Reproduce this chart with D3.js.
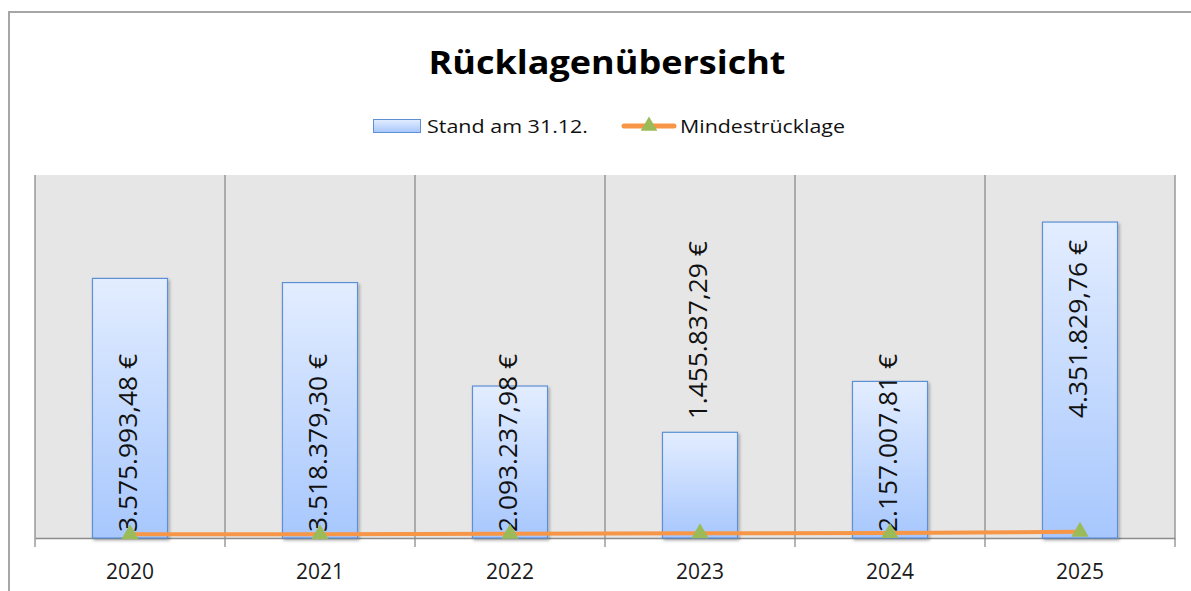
<!DOCTYPE html>
<html>
<head>
<meta charset="utf-8">
<script src="https://cdn.jsdelivr.net/npm/d3@7"></script>
<style>
  body { margin: 0; background: #fff; }
  svg { display: block; }
</style>
</head>
<body>
<div id="chart-area"></div>
<script>
// data
const years = ["2020", "2021", "2022", "2023", "2024", "2025"];
const stand = [3575993.48, 3518379.30, 2093237.98, 1455837.29, 2157007.81, 4351829.76];
const mindest = [50000, 52000, 60000, 65000, 70000, 85000];
const yDomain = [0, 5000000];

// label placement per bar (Excel put some at the base, some above the bar)
const labelMode = ["base", "base", "base", "end", "base", "end"];

const W = 1191, H = 591;
const plot = { left: 35, right: 1175, top: 175, bottom: 538 };

const fmt = v => {
  const s = v.toFixed(2).split(".");
  return s[0].replace(/\B(?=(\d{3})+(?!\d))/g, ".") + "," + s[1] + " €";
};

const svg = d3.select("#chart-area")
  .append("svg")
  .attr("width", W)
  .attr("height", H)
  .style("font-family", "'Open Sans', sans-serif");

const defs = svg.append("defs");
const grad = defs.append("linearGradient")
  .attr("id", "barGrad")
  .attr("x1", 0).attr("y1", 0).attr("x2", 0).attr("y2", 1);
grad.append("stop").attr("offset", "0%").attr("stop-color", "#e3edff");
grad.append("stop").attr("offset", "100%").attr("stop-color", "#a7c7fd");

const shadow = defs.append("filter").attr("id", "shadow")
  .attr("x", "-20%").attr("y", "-20%").attr("width", "140%").attr("height", "140%");
shadow.append("feDropShadow")
  .attr("dx", 1.5).attr("dy", 2).attr("stdDeviation", 1.5)
  .attr("flood-color", "#000").attr("flood-opacity", 0.3);

// outer chart frame
svg.append("path")
  .attr("d", `M9,${H} V12 H${W}`)
  .attr("fill", "none")
  .attr("stroke", "#a6a6a6")
  .attr("stroke-width", 2);

// title
svg.append("text")
  .attr("x", 607).attr("y", 74)
  .attr("text-anchor", "middle")
  .attr("font-size", 33)
  .attr("font-weight", "bold")
  .attr("fill", "#000")
  .attr("textLength", 357)
  .attr("lengthAdjust", "spacingAndGlyphs")
  .text("Rücklagenübersicht");

// legend
const lg = svg.append("g");
lg.append("rect")
  .attr("x", 373.5).attr("y", 119.5).attr("width", 47).attr("height", 13)
  .attr("fill", "url(#barGrad)").attr("stroke", "#5e8fd3");
lg.append("text")
  .attr("x", 427).attr("y", 133)
  .attr("font-size", 18).attr("fill", "#111")
  .attr("textLength", 161).attr("lengthAdjust", "spacingAndGlyphs")
  .text("Stand am 31.12.");
lg.append("line")
  .attr("x1", 624).attr("x2", 674).attr("y1", 126).attr("y2", 126)
  .attr("stroke", "#f79646").attr("stroke-width", 5).attr("stroke-linecap", "round");
lg.append("path")
  .attr("d", d3.symbol(d3.symbolTriangle, 120)())
  .attr("transform", "translate(649,126)")
  .attr("fill", "#9bbb59");
lg.append("text")
  .attr("x", 680).attr("y", 133)
  .attr("font-size", 18).attr("fill", "#111")
  .attr("textLength", 165).attr("lengthAdjust", "spacingAndGlyphs")
  .text("Mindestrücklage");

// scales
const x = d3.scaleBand().domain(years).range([plot.left, plot.right]).padding(0);
const y = d3.scaleLinear().domain(yDomain).range([plot.bottom, plot.top]);
const barW = x.bandwidth() * 0.395;
const cx = d => x(d) + x.bandwidth() / 2;

// plot background
svg.append("rect")
  .attr("x", plot.left).attr("y", plot.top)
  .attr("width", plot.right - plot.left).attr("height", plot.bottom - plot.top)
  .attr("fill", "#e6e6e6");

// vertical category separators + ticks
const bounds = years.map(d => x(d)).concat([plot.right]);
svg.selectAll("line.sep")
  .data(bounds)
  .enter().append("line")
  .attr("class", "sep")
  .attr("x1", d => d).attr("x2", d => d)
  .attr("y1", plot.top).attr("y2", plot.bottom + 9)
  .attr("stroke", "#8c8c8c").attr("stroke-width", 1.3);

// x axis
const xAxis = d3.axisBottom(x).tickSize(0).tickPadding(26);
const xg = svg.append("g")
  .attr("transform", `translate(0,${plot.bottom})`)
  .call(xAxis);
xg.select(".domain").attr("stroke", "#8c8c8c").attr("stroke-width", 1.3);
xg.selectAll("text")
  .attr("font-size", 21)
  .attr("font-family", "'Open Sans', sans-serif")
  .attr("fill", "#1a1a1a");

// bars
const rows = years.map((yr, i) => ({ yr, v: stand[i], m: mindest[i], mode: labelMode[i] }));

svg.selectAll("rect.bar")
  .data(rows)
  .enter().append("rect")
  .attr("class", "bar")
  .attr("x", d => cx(d.yr) - barW / 2)
  .attr("y", d => y(d.v))
  .attr("width", barW)
  .attr("height", d => y(0) - y(d.v))
  .attr("fill", "url(#barGrad)")
  .attr("stroke", "#5e8fd3")
  .attr("stroke-width", 1.2)
  .attr("filter", "url(#shadow)");

// data labels (rotated)
const labelLen = 178;
const labels = svg.selectAll("text.lbl")
  .data(rows)
  .enter().append("text")
  .attr("class", "lbl")
  .attr("font-size", 25)
  .attr("fill", "#111")
  .attr("dominant-baseline", "central")
  .attr("textLength", labelLen)
  .attr("lengthAdjust", "spacingAndGlyphs")
  .text(d => fmt(d.v));

labels.each(function(d) {
  let start;
  if (d.mode === "base") {
    start = y(0) - 6;
  } else {
    start = y(d.v) - 13;
    const minTop = plot.top + 65;
    if (start - labelLen < minTop) start = minTop + labelLen;
  }
  d3.select(this).attr("transform", `translate(${cx(d.yr) - 3},${start}) rotate(-90)`);
});

// Mindestrücklage line
const line = d3.line().x(d => cx(d.yr)).y(d => y(d.m));
svg.append("path")
  .datum(rows)
  .attr("d", line)
  .attr("fill", "none")
  .attr("stroke", "#f79646")
  .attr("stroke-width", 4);

svg.selectAll("path.marker")
  .data(rows)
  .enter().append("path")
  .attr("class", "marker")
  .attr("d", d3.symbol(d3.symbolTriangle, 130))
  .attr("transform", d => `translate(${cx(d.yr)},${y(d.m)})`)
  .attr("fill", "#9bbb59");
</script>
</body>
</html>
